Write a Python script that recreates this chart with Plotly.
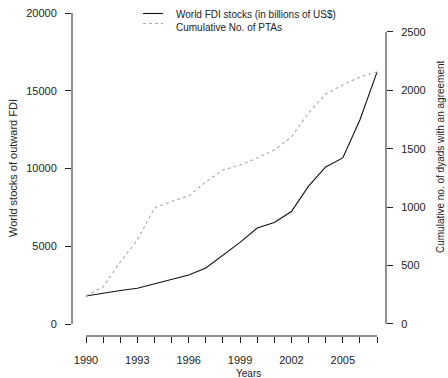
import plotly.graph_objects as go

# Annual series, 1990-2007
years = list(range(1990, 2008))
fdi_stocks = [1800, 1990, 2150, 2300, 2570, 2860, 3150, 3600, 4400, 5250,
              6170, 6530, 7230, 8870, 10100, 10680, 13120, 16200]
cum_ptas = [240, 317, 530, 720, 993, 1049, 1096, 1216, 1318, 1361,
            1421, 1490, 1601, 1807, 1969, 2046, 2115, 2158]

left_ticks = [0, 5000, 10000, 15000, 20000]
right_ticks = [0, 500, 1000, 1500, 2000, 2500]
x_labels = [str(y) if (y - 1990) % 3 == 0 else "" for y in years]

legend_names = ["World FDI stocks (in billions of US$)", "Cumulative No. of PTAs"]

W, H = 448, 378
L, R, T, B = 72, 386, 1, 336   # plot area in pixels

FONT = "Liberation Sans, Arial, sans-serif"
INK = "#222222"

fig = go.Figure()
fig.add_trace(go.Scatter(x=years, y=fdi_stocks, mode="lines", name=legend_names[0],
                         line=dict(color="#111111", width=1.1), showlegend=False))
fig.add_trace(go.Scatter(x=years, y=cum_ptas, mode="lines", name=legend_names[1], yaxis="y2",
                         line=dict(color="#aaaaaa", width=1.1, dash="3px,3px"), showlegend=False))

def px_x(p):
    return (p - L) / (R - L)

def px_y(p):
    return (B - p) / (B - T)

tick_font = dict(family=FONT, size=11, color=INK)

fig.update_layout(
    width=W, height=H,
    margin=dict(l=L, r=W - R, t=T, b=H - B, pad=0),
    paper_bgcolor="white", plot_bgcolor="white",
    showlegend=False,
    xaxis=dict(range=[1989.182, 2007.526], tickvals=years, ticktext=x_labels,
               ticks="outside", ticklen=6, tickcolor=INK, tickwidth=1,
               showgrid=False, zeroline=False, showline=False,
               tickfont=tick_font, ticklabelstandoff=8, fixedrange=True),
    yaxis=dict(range=[-772, 20772], tickvals=left_ticks,
               ticktext=[str(v) for v in left_ticks],
               ticks="outside", ticklen=6, tickcolor=INK, tickwidth=1,
               showgrid=False, zeroline=False, showline=False,
               tickfont=tick_font, ticklabelstandoff=6),
    yaxis2=dict(range=[-103, 2765], tickvals=right_ticks,
                ticktext=[str(v) for v in right_ticks],
                overlaying="y", side="right",
                ticks="outside", ticklen=6, tickcolor=INK, tickwidth=1,
                showgrid=False, zeroline=False, showline=False,
                tickfont=tick_font, ticklabelstandoff=6),
)

# axis lines spanning first to last tick
line_style = dict(color=INK, width=1)
fig.add_shape(type="line", xref="paper", yref="y", x0=0, x1=0, y0=0, y1=20000, line=line_style)
fig.add_shape(type="line", xref="paper", yref="y2", x0=1, x1=1, y0=0, y1=2500, line=line_style)
fig.add_shape(type="line", xref="x", yref="paper", x0=1990, x1=2007, y0=0, y1=0, line=line_style)

# legend keys
fig.add_shape(type="line", xref="paper", yref="paper", x0=px_x(143), x1=px_x(163),
              y0=px_y(13.5), y1=px_y(13.5), line=dict(color="#111111", width=1.1))
fig.add_shape(type="line", xref="paper", yref="paper", x0=px_x(143), x1=px_x(163),
              y0=px_y(23.5), y1=px_y(23.5), line=dict(color="#aaaaaa", width=1.1, dash="3px,3px"))
for name, yc in zip(legend_names, [15, 27]):
    fig.add_annotation(text=name, xref="paper", yref="paper", x=px_x(174), y=px_y(yc),
                       xanchor="left", yanchor="middle", showarrow=False,
                       font=dict(family=FONT, size=10, color=INK))

# axis titles
fig.add_annotation(text="World stocks of outward FDI", xref="paper", yref="paper",
                   x=px_x(13), y=px_y(168), textangle=-90, showarrow=False,
                   xanchor="center", yanchor="middle",
                   font=dict(family=FONT, size=11, color=INK))
fig.add_annotation(text="Cumulative no. of dyads with an agreement", xref="paper", yref="paper",
                   x=px_x(440), y=px_y(157), textangle=-90, showarrow=False,
                   xanchor="center", yanchor="middle",
                   font=dict(family=FONT, size=10, color=INK))
fig.add_annotation(text="Years", xref="paper", yref="paper",
                   x=px_x(248), y=px_y(373), showarrow=False,
                   xanchor="center", yanchor="middle",
                   font=dict(family=FONT, size=10, color=INK))

fig.write_html("out.html")
